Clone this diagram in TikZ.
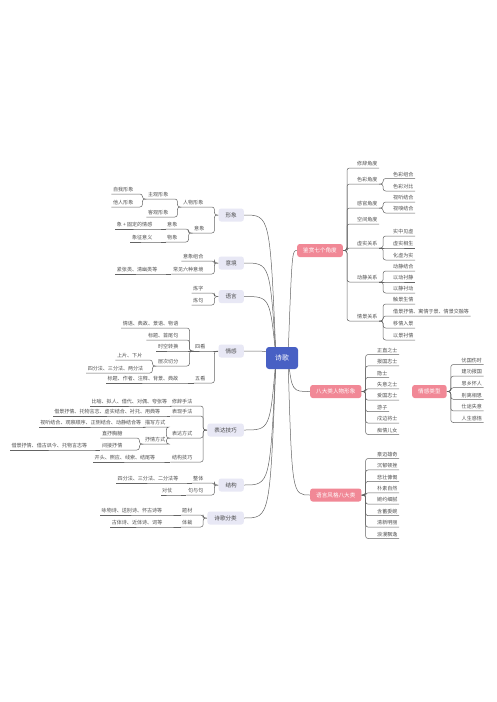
\documentclass[tikz,border=0pt]{standalone}
\usepackage{fontspec}
\setmainfont{Noto Sans CJK SC}
\usetikzlibrary{backgrounds}
\definecolor{lav}{RGB}{232,232,245}
\definecolor{pk}{RGB}{241,136,150}
\definecolor{bl}{RGB}{72,96,196}
\definecolor{tx}{RGB}{80,80,80}
\definecolor{ln}{RGB}{100,100,100}
\tikzset{
 leafl/.style={font=\fontsize{5.05}{6}\selectfont, text=tx, inner xsep=1.5pt, inner ysep=1.2pt, text height=4.2pt, text depth=0.9pt, anchor=south east},
 leafr/.style={leafl, anchor=south west},
 mainl/.style={fill=lav, rounded corners=2.5pt, font=\fontsize{5.6}{6.5}\selectfont, text=tx!90!black, inner xsep=7pt, inner ysep=0pt, minimum height=13pt, anchor=east},
 mainp/.style={fill=pk, rounded corners=2.5pt, font=\fontsize{5.6}{6.5}\selectfont, text=white, inner xsep=6pt, inner ysep=0pt, minimum height=13pt, anchor=west},
 ctr/.style={fill=bl, rounded corners=3pt, font=\fontsize{6.8}{8}\selectfont, text=white, minimum width=32pt, minimum height=22pt},
 conn/.style={draw=ln, line width=0.5pt, rounded corners=2.5pt},
}
\newcommand\mmcL[2]{\draw[conn] (#1) -- ++(-4,0) |- (#2.south east) -- (#2.south west);}
\newcommand\mmsL[2]{\draw[conn] (#1) -- (#2.south east) -- (#2.south west);}
\newcommand\mmcR[2]{\draw[conn] (#1) -- ++(4,0) |- (#2.south west) -- (#2.south east);}
\newcommand\mmsR[2]{\draw[conn] (#1) -- (#2.south west) -- (#2.south east);}
\begin{document}
\begin{tikzpicture}[x=1pt,y=-1pt]
\useasboundingbox (0,0) rectangle (496,702);
% center
\node[ctr] (c) at (282,358) {诗歌};
% ---------- left ----------
\node[mainl] (n1) at (244,215) {形象};
\node[leafl] (n1a) at (205,207) {人物形象};
\node[leafl] (n1a1) at (170,199) {主观形象};
\node[leafl] (n1a1a) at (135,194) {自我形象};
\node[leafl] (n1a1b) at (135,207) {他人形象};
\node[leafl] (n1a2) at (170,217) {客观形象};
\node[leafl] (n1b) at (206,233) {意象};
\node[leafl] (n1b1) at (179,229) {意象};
\node[leafl] (n1b1a) at (154,229) {象 + 固定的情感};
\node[leafl] (n1b2) at (179,242) {物象};
\node[leafl] (n1b2a) at (154,242) {象征意义};

\node[mainl] (n2) at (244,263) {意境};
\node[leafl] (n2a) at (205,261) {意象组合};
\node[leafl] (n2b) at (205,274) {常见六种意境};
\node[leafl] (n2b1) at (159,274) {紧张类、清幽类等};

\node[mainl] (n3) at (244,296.5) {语言};
\node[leafl] (n3a) at (205,293) {炼字};
\node[leafl] (n3b) at (205,305) {炼句};

\node[mainl] (n4) at (244,351) {情感};
\node[leafl] (n4a) at (207,351) {四看};
\node[leafl] (n4a1) at (180,328) {情语、典故、景语、物语};
\node[leafl] (n4a2) at (180,340) {标题、首尾句};
\node[leafl] (n4a3) at (180,351) {时空转换};
\node[leafl] (n4a4) at (180,366) {层次切分};
\node[leafl] (n4a4a) at (144,360) {上片、下片};
\node[leafl] (n4a4b) at (145,373) {四分法、三分法、两分法};
\node[leafl] (n4b) at (207,383) {五看};
\node[leafl] (n4b1) at (180,383) {标题、作者、注释、背景、典故};

\node[mainl] (n5) at (244,430) {表达技巧};
\node[leafl] (n5a) at (194,406) {修辞手法};
\node[leafl] (n5a1) at (169,406) {比喻、拟人、借代、对偶、夸张等};
\node[leafl] (n5b) at (194,416) {表现手法};
\node[leafl] (n5b1) at (162,416) {借景抒情、托物言志、虚实结合、衬托、用典等};
\node[leafl] (n5c) at (194,438) {表达方式};
\node[leafl] (n5c1) at (167,427) {描写方式};
\node[leafl] (n5c1a) at (143,427) {视听结合、观察顺序、正侧结合、动静结合等};
\node[leafl] (n5c2) at (167,444) {抒情方式};
\node[leafl] (n5c2a) at (124,438) {直抒胸臆};
\node[leafl] (n5c2b) at (124,450) {间接抒情};
\node[leafl] (n5c2b1) at (89,450) {借景抒情、借古讽今、托物言志等};
\node[leafl] (n5d) at (194,462) {结构技巧};
\node[leafl] (n5d1) at (157,462) {开头、照应、线索、结尾等};

\node[mainl] (n6) at (244,485) {结构};
\node[leafl] (n6a) at (205,483) {整体};
\node[leafl] (n6a1) at (180,483) {四分法、三分法、二分法等};
\node[leafl] (n6b) at (205,495) {句与句};
\node[leafl] (n6b1) at (174,495) {对仗};

\node[mainl] (n7) at (244,518) {诗歌分类};
\node[leafl] (n7a) at (194,515) {题材};
\node[leafl] (n7a1) at (164,515) {咏物诗、送别诗、怀古诗等};
\node[leafl] (n7b) at (194,527) {体裁};
\node[leafl] (n7b1) at (164,527) {古体诗、近体诗、词等};

% ---------- right ----------
\node[mainp] (r1) at (297,250.5) {鉴赏七个角度};
\node[leafr] (r1a) at (355.5,168) {修辞角度};
\node[leafr] (r1b) at (355.5,184) {色彩角度};
\node[leafr] (r1b1) at (391.5,178.5) {色彩组合};
\node[leafr] (r1b2) at (391.5,191) {色彩对比};
\node[leafr] (r1c) at (355.5,208) {感官角度};
\node[leafr] (r1c1) at (391.5,202) {视听结合};
\node[leafr] (r1c2) at (391.5,213) {视嗅结合};
\node[leafr] (r1d) at (355.5,224) {空间角度};
\node[leafr] (r1e) at (355.5,248) {虚实关系};
\node[leafr] (r1e1) at (391.5,236) {实中见虚};
\node[leafr] (r1e2) at (391.5,248) {虚实相生};
\node[leafr] (r1e3) at (391.5,260) {化虚为实};
\node[leafr] (r1f) at (355.5,282) {动静关系};
\node[leafr] (r1f1) at (391.5,271) {动静结合};
\node[leafr] (r1f2) at (391.5,282) {以动衬静};
\node[leafr] (r1f3) at (391.5,293) {以静衬动};
\node[leafr] (r1g) at (355.5,321) {情景关系};
\node[leafr] (r1g1) at (391.5,304) {触景生情};
\node[leafr] (r1g2) at (391.5,316) {借景抒情、寓情于景、情景交融等};
\node[leafr] (r1g3) at (391.5,328) {移情入景};
\node[leafr] (r1g4) at (391.5,340) {以景衬情};

\node[mainp] (r2) at (310,391.5) {八大类人物形象};
\foreach \t [count=\i from 0] in {正直之士,报国志士,隐士,失意之士,爱国志士,游子,戍边将士,痴情儿女}
  \node[leafr] (r2c\i) at (375.5,354.5+11.43*\i) {\t};

\node[mainp] (r3) at (412,391.5) {情感类型};
\foreach \t [count=\i from 0] in {忧国伤时,建功报国,思乡怀人,别离相思,仕途失意,人生感悟}
  \node[leafr] (r3c\i) at (460,364.5+11.6*\i) {\t};

\node[mainp] (r4) at (310,495) {语言风格八大类};
\foreach \t [count=\i from 0] in {豪迈雄奇,沉郁顿挫,悲壮慷慨,朴素自然,婉约细腻,含蓄委婉,清新明丽,浪漫飘逸}
  \node[leafr] (r4c\i) at (375.5,458.5+11.43*\i) {\t};

\begin{pgfonlayer}{background}
\fill[white] (0,0) rectangle (496,702);
\coordinate (cL) at ([xshift=-12pt]c.center);
\coordinate (cR) at ([xshift=10pt]c.center);
\foreach \n in {n1,n2,n3,n4,n5,n6,n7}
  \draw[conn] ([xshift=-6pt]c.center) .. controls (cL |- \n.east) .. (\n.east);
\foreach \n in {r1,r2,r4}
  \draw[conn] ([xshift=6pt]c.center) .. controls (cR |- \n.west) .. (\n.west);
% left
\mmcL{n1.west}{n1a} \mmcL{n1.west}{n1b}
\mmcL{n1a.south west}{n1a1} \mmcL{n1a.south west}{n1a2}
\mmcL{n1a1.south west}{n1a1a} \mmcL{n1a1.south west}{n1a1b}
\mmcL{n1b.south west}{n1b1} \mmcL{n1b.south west}{n1b2}
\mmsL{n1b1.south west}{n1b1a} \mmsL{n1b2.south west}{n1b2a}
\mmcL{n2.west}{n2a} \mmcL{n2.west}{n2b}
\mmsL{n2b.south west}{n2b1}
\mmcL{n3.west}{n3a} \mmcL{n3.west}{n3b}
\mmsL{n4.west}{n4a} \mmcL{n4.west}{n4b}
\mmcL{n4a.south west}{n4a1} \mmcL{n4a.south west}{n4a2}
\mmsL{n4a.south west}{n4a3} \mmcL{n4a.south west}{n4a4}
\mmcL{n4a4.south west}{n4a4a} \mmcL{n4a4.south west}{n4a4b}
\mmsL{n4b.south west}{n4b1}
\mmcL{n5.west}{n5a} \mmcL{n5.west}{n5b} \mmcL{n5.west}{n5c} \mmcL{n5.west}{n5d}
\mmsL{n5a.south west}{n5a1} \mmsL{n5b.south west}{n5b1}
\mmcL{n5c.south west}{n5c1} \mmcL{n5c.south west}{n5c2}
\mmsL{n5c1.south west}{n5c1a}
\mmcL{n5c2.south west}{n5c2a} \mmcL{n5c2.south west}{n5c2b}
\mmsL{n5c2b.south west}{n5c2b1}
\mmsL{n5d.south west}{n5d1}
\mmcL{n6.west}{n6a} \mmcL{n6.west}{n6b}
\mmsL{n6a.south west}{n6a1} \mmsL{n6b.south west}{n6b1}
\mmcL{n7.west}{n7a} \mmcL{n7.west}{n7b}
\mmsL{n7a.south west}{n7a1} \mmsL{n7b.south west}{n7b1}
% right
\foreach \k in {r1a,r1b,r1c,r1d,r1e,r1f,r1g} {\mmcR{r1.east}{\k}}
\mmcR{r1b.south east}{r1b1} \mmcR{r1b.south east}{r1b2}
\mmcR{r1c.south east}{r1c1} \mmcR{r1c.south east}{r1c2}
\mmcR{r1e.south east}{r1e1} \mmsR{r1e.south east}{r1e2} \mmcR{r1e.south east}{r1e3}
\mmcR{r1f.south east}{r1f1} \mmsR{r1f.south east}{r1f2} \mmcR{r1f.south east}{r1f3}
\foreach \k in {r1g1,r1g2,r1g3,r1g4} {\mmcR{r1g.south east}{\k}}
\foreach \i in {0,...,7} {\mmcR{r2.east}{r2c\i}}
\foreach \i in {0,...,5} {\mmcR{r3.east}{r3c\i}}
\foreach \i in {0,...,7} {\mmcR{r4.east}{r4c\i}}
\end{pgfonlayer}
\end{tikzpicture}
\end{document}
